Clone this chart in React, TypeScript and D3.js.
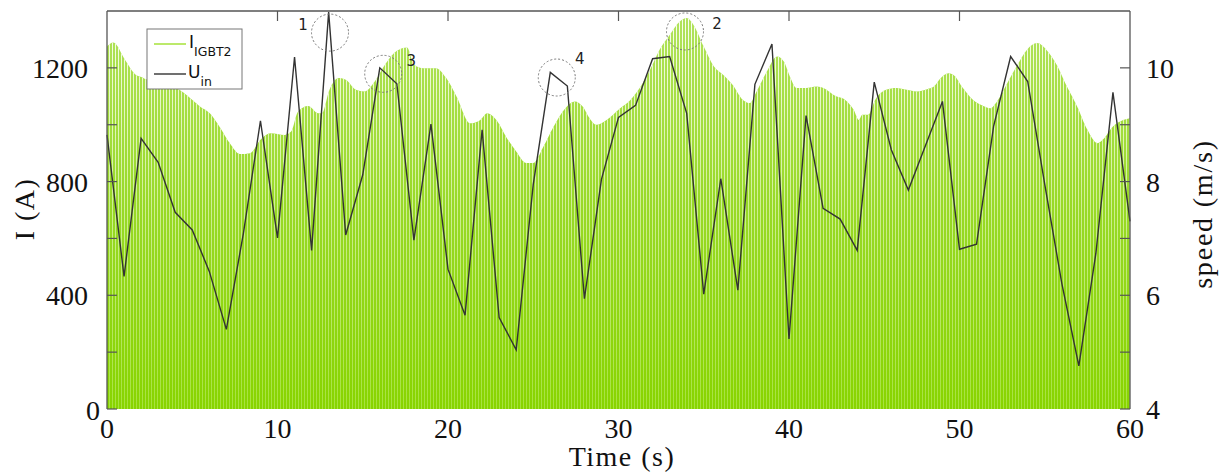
import React from "react";
import * as d3 from "d3";

// ---- data ----
const speedT: number[] = d3.range(0, 61);
const speedV: number[] = [
  8.82, 6.33, 8.76, 8.34, 7.46, 7.15, 6.42, 5.4, 7.09, 9.07,
  7.01, 10.19, 6.79, 10.98, 7.06, 8.12, 10.0, 9.72, 6.97, 9.01,
  6.46, 5.65, 8.91, 5.61, 5.04, 7.95, 9.92, 9.68, 5.94, 8.04,
  9.13, 9.34, 10.16, 10.2, 9.2, 6.02, 8.05, 6.09, 9.71, 10.42,
  5.23, 9.16, 7.53, 7.34, 6.79, 9.75, 8.56, 7.85, 8.63, 9.41,
  6.81, 6.9, 8.97, 10.2, 9.76, 7.95, 6.21, 4.76, 6.74, 9.57, 7.3,
];

const envT: number[] = [
  0, 0.37, 1.06, 1.7, 2.05, 2.3, 3, 4.5, 5.45, 6.03,
  6.6, 7.2, 7.8, 8.4, 9, 9.6, 10.4, 10.8, 11.2, 11.8,
  12.4, 12.6, 13.05, 13.6, 14.0, 14.6, 15.1, 15.7, 16.3, 17.0,
  17.6, 18.0, 18.55, 19.3, 19.9, 20.5, 21.3, 21.9, 22.3, 22.9,
  23.4, 24.0, 24.6, 25.0, 25.6, 26.2, 26.8, 27.45, 27.9, 28.3,
  28.7, 29.3, 30.1, 30.7, 31.3, 31.85, 32.4, 33.0, 33.6, 34.0,
  34.4, 35.0, 35.6, 36.15, 36.7, 37.3, 37.7, 38.1, 38.7, 39.3,
  39.7, 40.05, 40.45, 41.0, 41.6, 42.2, 42.6, 43.4, 43.8, 44.1,
  44.3, 44.65, 45.05, 45.7, 46.3, 46.9, 47.5, 48.1, 48.5, 48.9,
  49.35, 49.65, 50.2, 50.8, 51.4, 51.8, 52.2, 52.8, 53.4, 53.95,
  54.55, 55.1, 55.7, 56.3, 56.9, 57.5, 58.1, 58.4, 59.0, 59.6, 60,
];
const envI: number[] = [
  1275, 1289, 1228, 1175, 1167, 1160, 1158, 1112, 1064, 1040,
  993, 935, 897, 900, 947, 970, 964, 976, 1046, 1066,
  1040, 1040, 1123, 1164, 1158, 1123, 1117, 1152, 1211, 1260,
  1272, 1211, 1199, 1199, 1164, 1099, 1005, 1017, 1040, 1011,
  958, 906, 865, 865, 923, 994, 1052, 1082, 1064, 1023,
  1000, 1017, 1058, 1087, 1134, 1193, 1263, 1316, 1363, 1375,
  1351, 1275, 1205, 1175, 1140, 1087, 1076, 1117, 1187, 1240,
  1222, 1170, 1129, 1129, 1134, 1123, 1105, 1082, 1052, 1017,
  1035, 1035, 1087, 1123, 1129, 1123, 1117, 1125, 1134, 1164,
  1181, 1175, 1129, 1087, 1066, 1058, 1082, 1146, 1211, 1263,
  1287, 1263, 1211, 1134, 1064, 982, 935, 947, 994, 1017, 1023,
];

const xTicks: number[] = [0, 10, 20, 30, 40, 50, 60];
const iTicks: number[] = [0, 400, 800, 1200];
const iMinorTicks: number[] = [0, 200, 400, 600, 800, 1000, 1200];
const sTicks: number[] = [4, 6, 8, 10];
const sMinorTicks: number[] = [4, 5, 6, 7, 8, 9, 10];

const markLabels: string[] = ["1", "2", "3", "4"];
const markT: number[] = [13.08, 33.9, 16.2, 26.38];
const markI: number[] = [1324, 1328, 1179, 1166];

// ---- layout ----
const W = 1222;
const H = 473;
const L = 107, R = 1130, T = 11, B = 409;

export default function App() {
  const x = d3.scaleLinear().domain([0, 60]).range([L, R]);
  const yI = d3.scaleLinear().domain([0, 1400]).range([B, T]);
  const yS = d3.scaleLinear().domain([4, 11]).range([B, T]);

  const env = envT.map((t, i) => ({ t, v: envI[i] }));
  const area = d3
    .area<{ t: number; v: number }>()
    .x((d) => x(d.t))
    .y0(B)
    .y1((d) => yI(d.v))
    .curve(d3.curveMonotoneX);

  const speed = speedT.map((t, i) => ({ t, v: speedV[i] }));
  const line = d3
    .line<{ t: number; v: number }>()
    .x((d) => x(d.t))
    .y((d) => yS(d.v));

  const serif = "'Liberation Serif', 'DejaVu Serif', serif";
  const sans = "'DejaVu Sans', 'Noto Sans', sans-serif";
  const axisColor = "#555";
  const tickLen = 10;
  const fs = 28;

  const markOffsets = [
    [-27, -3],
    [32, -2],
    [28, -8],
    [23, -14],
  ];

  return (
    <div style={{ position: "fixed", left: 0, top: 0, width: W, height: H, background: "#fff" }}>
      <svg width={W} height={H} viewBox={`0 0 ${W} ${H}`}>
        <defs>
          <linearGradient id="barGrad" gradientUnits="userSpaceOnUse" x1="0" y1={B} x2="0" y2={T}>
            <stop offset="0" stopColor="#88d400" />
            <stop offset="0.5" stopColor="#98d926" />
            <stop offset="1" stopColor="#b2e35e" />
          </linearGradient>
          <linearGradient id="gapGrad" gradientUnits="userSpaceOnUse" x1="0" y1={B} x2="0" y2={T}>
            <stop offset="0" stopColor="#a6e23c" />
            <stop offset="0.5" stopColor="#cdef90" />
            <stop offset="1" stopColor="#fbfef4" />
          </linearGradient>
          <pattern id="stripes" patternUnits="userSpaceOnUse" x={L} y="0" width="3" height="10">
            <rect x="2" y="0" width="1" height="10" fill="#fff" />
          </pattern>
          <mask id="stripeMask" maskUnits="userSpaceOnUse" x={L} y={T} width={R - L} height={B - T}>
            <rect x={L} y={T} width={R - L} height={B - T} fill="url(#stripes)" />
          </mask>
          <clipPath id="envClip">
            <path d={area(env) || ""} />
          </clipPath>
        </defs>

        {/* current signal */}
        <g clipPath="url(#envClip)">
          <rect x={L} y={T} width={R - L} height={B - T} fill="url(#barGrad)" />
          <rect x={L} y={T} width={R - L} height={B - T} fill="url(#gapGrad)" mask="url(#stripeMask)" />
        </g>

        {/* speed line */}
        <path d={line(speed) || ""} fill="none" stroke="#333" strokeWidth={1.4} strokeLinejoin="miter" />

        {/* annotations */}
        {markLabels.map((lab, i) => (
          <g key={lab}>
            <circle
              cx={x(markT[i])}
              cy={yI(markI[i])}
              r={18.5}
              fill="none"
              stroke="#777"
              strokeWidth={1}
              strokeDasharray="2,2"
            />
            <text
              x={x(markT[i]) + markOffsets[i][0]}
              y={yI(markI[i]) + markOffsets[i][1]}
              fontFamily={sans}
              fontSize={15}
              fill="#222"
              textAnchor="middle"
            >
              {lab}
            </text>
          </g>
        ))}

        {/* frame */}
        <line x1={L} y1={T} x2={R} y2={T} stroke={axisColor} strokeWidth={1.3} />
        <line x1={L} y1={T} x2={L} y2={B} stroke={axisColor} strokeWidth={1.3} />
        <line x1={R} y1={T} x2={R} y2={B} stroke={axisColor} strokeWidth={1.3} />

        {/* left ticks */}
        {iMinorTicks.map((v) => (
          <line key={"il" + v} x1={L} x2={L + tickLen} y1={yI(v)} y2={yI(v)} stroke={axisColor} strokeWidth={1.2} />
        ))}
        {iTicks.map((v) => (
          <text
            key={"it" + v}
            x={v === 0 ? 100 : 88}
            y={yI(v) + (v === 0 ? 11 : 10)}
            textAnchor="end"
            fontFamily={serif}
            fontSize={fs}
            fill="#111"
          >
            {v}
          </text>
        ))}

        {/* right ticks */}
        {sMinorTicks.map((v) => (
          <line key={"sl" + v} x1={R - tickLen} x2={R} y1={yS(v)} y2={yS(v)} stroke={axisColor} strokeWidth={1.2} />
        ))}
        {sTicks.map((v) => (
          <text
            key={"st" + v}
            x={1146}
            y={yS(v) + 10}
            textAnchor="start"
            fontFamily={serif}
            fontSize={fs}
            fill="#111"
          >
            {v}
          </text>
        ))}

        {/* top ticks */}
        {xTicks.slice(1, -1).map((v) => (
          <line key={"xt" + v} x1={x(v)} x2={x(v)} y1={T} y2={T + tickLen} stroke={axisColor} strokeWidth={1.2} />
        ))}
        {/* bottom tick labels */}
        {xTicks.map((v) => (
          <text
            key={"xl" + v}
            x={x(v)}
            y={438}
            textAnchor="middle"
            fontFamily={serif}
            fontSize={fs}
            fill="#111"
          >
            {v}
          </text>
        ))}

        {/* axis titles */}
        <text x={622} y={466} textAnchor="middle" fontFamily={serif} fontSize={fs} letterSpacing={1.5} fill="#111">
          Time (s)
        </text>
        <text
          transform={`translate(34, 209) rotate(-90)`}
          textAnchor="middle"
          fontFamily={serif}
          fontSize={fs}
          letterSpacing={1.5}
          fill="#111"
        >
          I (A)
        </text>
        <text
          transform={`translate(1212, 214) rotate(-90)`}
          textAnchor="middle"
          fontFamily={serif}
          fontSize={fs}
          letterSpacing={1.8}
          fill="#111"
        >
          speed (m/s)
        </text>

        {/* legend */}
        <rect x={147} y={29} width={95} height={60} fill="#fff" stroke="#777" strokeWidth={1} />
        <line x1={154} x2={186} y1={44} y2={44} stroke="#a6e23a" strokeWidth={1.5} />
        <line x1={154} x2={186} y1={74} y2={74} stroke="#333" strokeWidth={1.4} />
        <text x={189} y={48} fontFamily={sans} fontSize={17} fill="#111">
          I
          <tspan dy={8} fontSize={12.5}>IGBT2</tspan>
        </text>
        <text x={188} y={78} fontFamily={sans} fontSize={17} fill="#111">
          U
          <tspan dy={8} fontSize={12.5}>in</tspan>
        </text>
      </svg>
    </div>
  );
}
